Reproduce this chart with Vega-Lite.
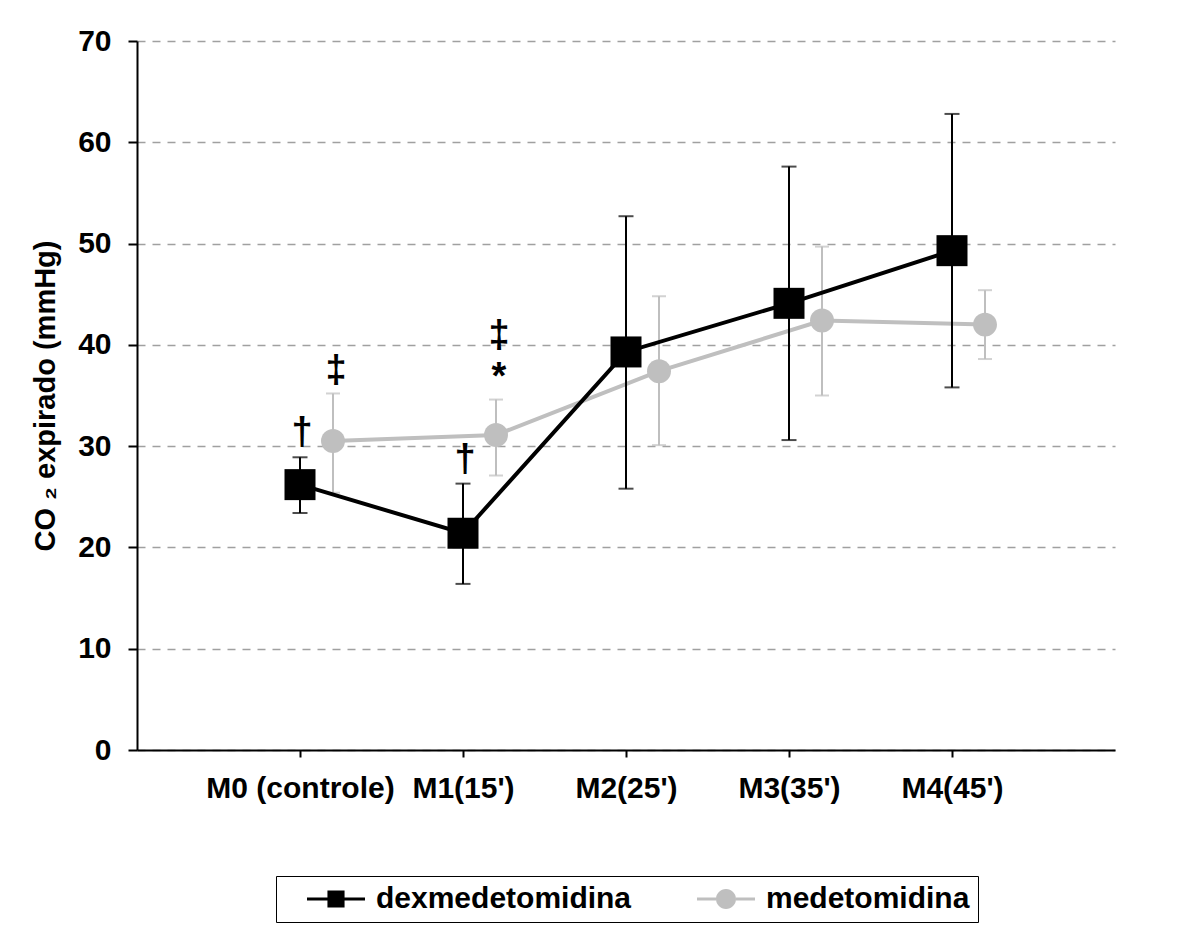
{
  "$schema": "https://vega.github.io/schema/vega-lite/v6.json",
  "width": 978,
  "height": 709,
  "autosize": "none",
  "padding": {"left": 137, "top": 41, "right": 67, "bottom": 194},
  "background": "white",
  "data": {
    "values": [
      {"momento": "M0 (controle)", "grupo": "dexmedetomidina", "media": 26.2, "inf": 23.4, "sup": 28.9, "sinal": "†", "sinal2": ""},
      {"momento": "M1(15')", "grupo": "dexmedetomidina", "media": 21.4, "inf": 16.4, "sup": 26.3, "sinal": "†", "sinal2": ""},
      {"momento": "M2(25')", "grupo": "dexmedetomidina", "media": 39.3, "inf": 25.8, "sup": 52.7, "sinal": "", "sinal2": ""},
      {"momento": "M3(35')", "grupo": "dexmedetomidina", "media": 44.1, "inf": 30.6, "sup": 57.6, "sinal": "", "sinal2": ""},
      {"momento": "M4(45')", "grupo": "dexmedetomidina", "media": 49.3, "inf": 35.8, "sup": 62.8, "sinal": "", "sinal2": ""},
      {"momento": "M0 (controle)", "grupo": "medetomidina", "media": 30.5, "inf": 25.4, "sup": 35.2, "sinal": "‡", "sinal2": ""},
      {"momento": "M1(15')", "grupo": "medetomidina", "media": 31.1, "inf": 27.1, "sup": 34.6, "sinal": "*", "sinal2": "‡"},
      {"momento": "M2(25')", "grupo": "medetomidina", "media": 37.4, "inf": 30.1, "sup": 44.8, "sinal": "", "sinal2": ""},
      {"momento": "M3(35')", "grupo": "medetomidina", "media": 42.4, "inf": 35.0, "sup": 49.7, "sinal": "", "sinal2": ""},
      {"momento": "M4(45')", "grupo": "medetomidina", "media": 42.0, "inf": 38.6, "sup": 45.4, "sinal": "", "sinal2": ""}
    ]
  },
  "encoding": {
    "x": {
      "field": "momento",
      "type": "nominal",
      "sort": null,
      "scale": {"type": "point", "padding": 1, "domain": ["M0 (controle)", "M1(15')", "M2(25')", "M3(35')", "M4(45')"]},
      "axis": {"title": null}
    },
    "y": {
      "field": "media",
      "type": "quantitative",
      "scale": {"domain": [0, 70], "nice": false},
      "axis": {"title": "CO ₂ expirado (mmHg)", "values": [0, 10, 20, 30, 40, 50, 60, 70]}
    }
  },
  "layer": [
    {
      "transform": [{"filter": "datum.grupo === 'medetomidina'"}],
      "mark": {"type": "rule", "color": "#bfbfbf", "strokeWidth": 2, "xOffset": 33},
      "encoding": {
        "y": {"field": "inf", "type": "quantitative", "scale": {"domain": [0, 70], "nice": false}, "axis": {"title": "CO ₂ expirado (mmHg)", "values": [0, 10, 20, 30, 40, 50, 60, 70]}},
        "y2": {"field": "sup"}
      }
    },
    {
      "transform": [{"filter": "datum.grupo === 'medetomidina'"}],
      "mark": {"type": "tick", "orient": "horizontal", "color": "#bfbfbf", "size": 14, "thickness": 2, "xOffset": 33},
      "encoding": {
        "y": {"field": "inf", "type": "quantitative", "scale": {"domain": [0, 70], "nice": false}, "axis": {"title": "CO ₂ expirado (mmHg)", "values": [0, 10, 20, 30, 40, 50, 60, 70]}}
      }
    },
    {
      "transform": [{"filter": "datum.grupo === 'medetomidina'"}],
      "mark": {"type": "tick", "orient": "horizontal", "color": "#bfbfbf", "size": 14, "thickness": 2, "xOffset": 33},
      "encoding": {
        "y": {"field": "sup", "type": "quantitative", "scale": {"domain": [0, 70], "nice": false}, "axis": {"title": "CO ₂ expirado (mmHg)", "values": [0, 10, 20, 30, 40, 50, 60, 70]}}
      }
    },
    {
      "transform": [{"filter": "datum.grupo === 'medetomidina'"}],
      "mark": {"type": "line", "color": "#bfbfbf", "strokeWidth": 4, "xOffset": 33},
      "encoding": {}
    },
    {
      "transform": [{"filter": "datum.grupo === 'medetomidina'"}],
      "mark": {"type": "point", "shape": "circle", "filled": true, "color": "#bfbfbf", "opacity": 1, "size": 573, "xOffset": 33},
      "encoding": {}
    },
    {
      "transform": [{"filter": "datum.grupo === 'medetomidina'"}],
      "mark": {"type": "text", "fontSize": 38, "fontWeight": "bold", "color": "black", "baseline": "bottom", "dy": -3, "xOffset": 36},
      "encoding": {
        "y": {"field": "sup", "type": "quantitative", "scale": {"domain": [0, 70], "nice": false}, "axis": {"title": "CO ₂ expirado (mmHg)", "values": [0, 10, 20, 30, 40, 50, 60, 70]}},
        "text": {"field": "sinal"}
      }
    },
    {
      "transform": [{"filter": "datum.grupo === 'medetomidina'"}],
      "mark": {"type": "text", "fontSize": 38, "fontWeight": "bold", "color": "black", "baseline": "bottom", "dy": -45, "xOffset": 36},
      "encoding": {
        "y": {"field": "sup", "type": "quantitative", "scale": {"domain": [0, 70], "nice": false}, "axis": {"title": "CO ₂ expirado (mmHg)", "values": [0, 10, 20, 30, 40, 50, 60, 70]}},
        "text": {"field": "sinal2"}
      }
    },
    {
      "transform": [{"filter": "datum.grupo === 'dexmedetomidina'"}],
      "mark": {"type": "rule", "color": "black", "strokeWidth": 2},
      "encoding": {
        "y": {"field": "inf", "type": "quantitative", "scale": {"domain": [0, 70], "nice": false}, "axis": {"title": "CO ₂ expirado (mmHg)", "values": [0, 10, 20, 30, 40, 50, 60, 70]}},
        "y2": {"field": "sup"}
      }
    },
    {
      "transform": [{"filter": "datum.grupo === 'dexmedetomidina'"}],
      "mark": {"type": "tick", "orient": "horizontal", "color": "black", "size": 15, "thickness": 2},
      "encoding": {
        "y": {"field": "inf", "type": "quantitative", "scale": {"domain": [0, 70], "nice": false}, "axis": {"title": "CO ₂ expirado (mmHg)", "values": [0, 10, 20, 30, 40, 50, 60, 70]}}
      }
    },
    {
      "transform": [{"filter": "datum.grupo === 'dexmedetomidina'"}],
      "mark": {"type": "tick", "orient": "horizontal", "color": "black", "size": 15, "thickness": 2},
      "encoding": {
        "y": {"field": "sup", "type": "quantitative", "scale": {"domain": [0, 70], "nice": false}, "axis": {"title": "CO ₂ expirado (mmHg)", "values": [0, 10, 20, 30, 40, 50, 60, 70]}}
      }
    },
    {
      "transform": [{"filter": "datum.grupo === 'dexmedetomidina'"}],
      "mark": {"type": "line", "color": "black", "strokeWidth": 4},
      "encoding": {}
    },
    {
      "transform": [{"filter": "datum.grupo === 'dexmedetomidina'"}],
      "mark": {"type": "point", "shape": "square", "filled": true, "color": "black", "opacity": 1, "size": 961},
      "encoding": {}
    },
    {
      "transform": [{"filter": "datum.grupo === 'dexmedetomidina'"}],
      "mark": {"type": "text", "fontSize": 38, "fontWeight": "bold", "color": "black", "baseline": "bottom", "dy": -5, "xOffset": 2},
      "encoding": {
        "y": {"field": "sup", "type": "quantitative", "scale": {"domain": [0, 70], "nice": false}, "axis": {"title": "CO ₂ expirado (mmHg)", "values": [0, 10, 20, 30, 40, 50, 60, 70]}},
        "text": {"field": "sinal"}
      }
    },
    {
      "transform": [{"filter": "false"}],
      "mark": {"type": "point", "filled": true, "opacity": 1},
      "encoding": {
        "color": {
          "field": "grupo",
          "type": "nominal",
          "scale": {"domain": ["dexmedetomidina", "medetomidina"], "range": ["black", "#bfbfbf"]},
          "legend": {"title": null}
        },
        "shape": {
          "field": "grupo",
          "type": "nominal",
          "scale": {
            "domain": ["dexmedetomidina", "medetomidina"],
            "range": [
              "M-2,-0.1H-0.59V0.1H-2Z M0.59,-0.1H2V0.1H0.59Z M-0.59,-0.59H0.59V0.59H-0.59Z",
              "M-2,-0.1H-0.69V0.1H-2Z M0.69,-0.1H2V0.1H0.69Z M-0.69,0A0.69,0.69 0 1,0 0.69,0A0.69,0.69 0 1,0 -0.69,0Z"
            ]
          },
          "legend": {"title": null}
        }
      }
    }
  ],
  "config": {
    "font": "Liberation Sans",
    "view": {"stroke": null},
    "axis": {
      "labelFont": "Liberation Sans",
      "labelFontSize": 30,
      "labelFontWeight": "bold",
      "labelColor": "black",
      "labelLimit": 0,
      "titleFont": "Liberation Sans",
      "titleFontSize": 29,
      "titleFontWeight": "bold",
      "titleColor": "black",
      "domainColor": "black",
      "domainWidth": 2,
      "tickColor": "black",
      "tickWidth": 2
    },
    "axisX": {"tickSize": 7, "labelPadding": 16, "grid": false, "labelAngle": 0},
    "axisY": {"tickSize": 9, "labelPadding": 17, "grid": true, "gridColor": "#a0a0a0", "gridDash": [8, 7], "gridWidth": 1.3, "titlePadding": 17},
    "legend": {
      "orient": "none",
      "legendX": 139,
      "legendY": 835,
      "direction": "horizontal",
      "strokeColor": "black",
      "padding": 8,
      "columnPadding": 42,
      "labelFont": "Liberation Sans",
      "labelFontSize": 30,
      "labelFontWeight": "bold",
      "labelColor": "black",
      "labelLimit": 0,
      "labelOffset": 25,
      "symbolOffset": 37,
      "symbolSize": 841,
      "symbolStrokeWidth": 0,
      "symbolOpacity": 1
    }
  }
}
